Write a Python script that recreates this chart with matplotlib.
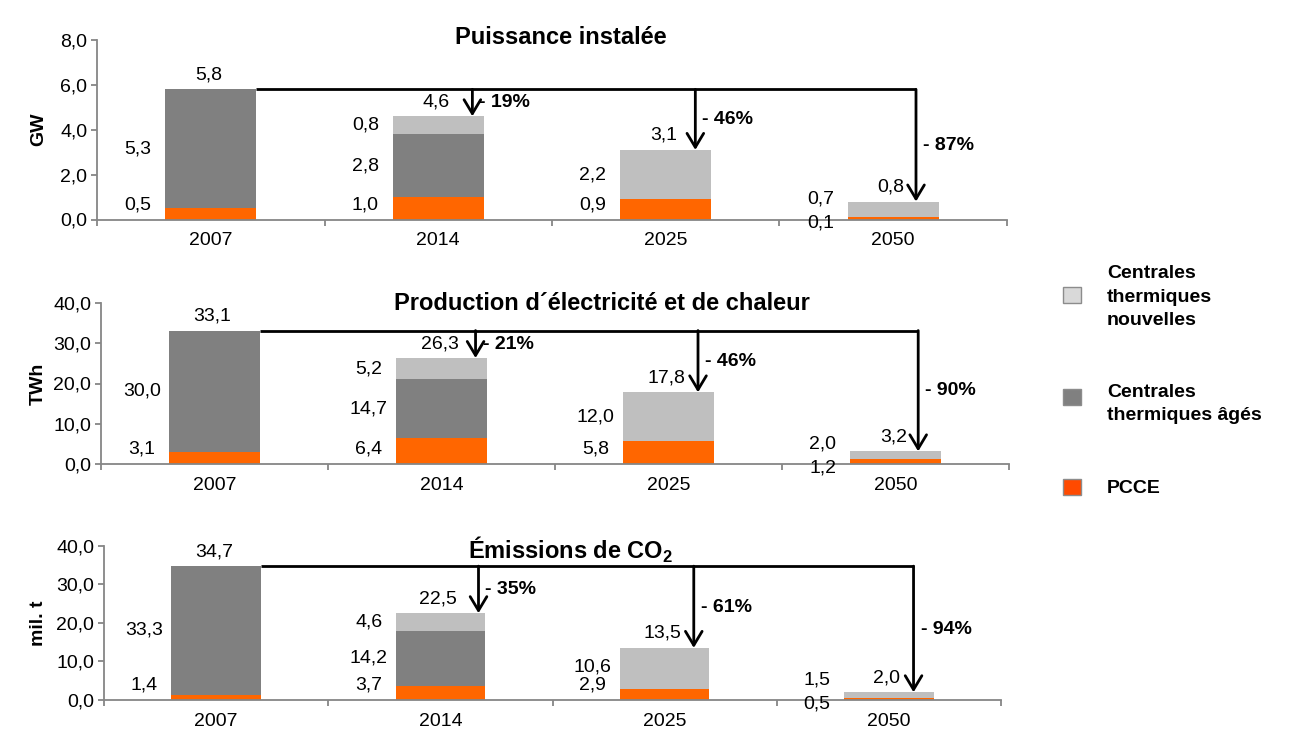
import matplotlib
matplotlib.use('Agg')
import matplotlib.pyplot as plt
from matplotlib.patches import Rectangle

plt.rcParams['font.family'] = ['Liberation Sans', 'DejaVu Sans']
plt.rcParams['mathtext.fontset'] = 'custom'
plt.rcParams['mathtext.rm'] = 'Liberation Sans'
plt.rcParams['mathtext.bf'] = 'Liberation Sans:bold'

# ---------------- data ----------------
years = ['2007', '2014', '2025', '2050']
legend_labels = ['Centrales\nthermiques\nnouvelles', 'Centrales\nthermiques âgés', 'PCCE']

power_pcce = [0.5, 1.0, 0.9, 0.1]
power_old = [5.3, 2.8, 0.0, 0.0]
power_new = [0.0, 0.8, 2.2, 0.7]
power_total = [5.8, 4.6, 3.1, 0.8]
power_change = ['- 19%', '- 46%', '- 87%']

prod_pcce = [3.1, 6.4, 5.8, 1.2]
prod_old = [30.0, 14.7, 0.0, 0.0]
prod_new = [0.0, 5.2, 12.0, 2.0]
prod_total = [33.1, 26.3, 17.8, 3.2]
prod_change = ['- 21%', '- 46%', '- 90%']

co2_pcce = [1.4, 3.7, 2.9, 0.5]
co2_old = [33.3, 14.2, 0.0, 0.0]
co2_new = [0.0, 4.6, 10.6, 1.5]
co2_total = [34.7, 22.5, 13.5, 2.0]
co2_change = ['- 35%', '- 61%', '- 94%']

# ---------------- style ----------------
W, H = 1291, 754
C_PCCE = '#FF6600'
C_OLD = '#808080'
C_NEW = '#BFBFBF'
SPINE = '#868686'
FS = 14

def fmt(v):
    return f'{v:.1f}'.replace('.', ',')

panels = [
    dict(rect=(97, 1007, 40, 219.5), ymax=8, step=2, ylabel='GW',
         title='Puissance instalée', tx=561, ty=38,
         segs=(power_pcce, power_old, power_new), total=power_total,
         change=power_change, adx=(0.15, 0.13, 0.10)),
    dict(rect=(101, 1009, 302.7, 464.3), ymax=40, step=10, ylabel='TWh',
         title='Production d\u00b4électricité et de chaleur', tx=602, ty=303,
         segs=(prod_pcce, prod_old, prod_new), total=prod_total,
         change=prod_change, adx=(0.15, 0.13, 0.10)),
    dict(rect=(104, 1001, 545.7, 700), ymax=40, step=10, ylabel='mil. t',
         title=r'Émissions de CO$_\mathbf{2}$', tx=571, ty=550,
         segs=(co2_pcce, co2_old, co2_new), total=co2_total,
         change=co2_change, adx=(0.17, 0.13, 0.11)),
]

fig = plt.figure(figsize=(W / 100, H / 100), dpi=100)

for p in panels:
    x0, x1, yt, yb = p['rect']
    ax = fig.add_axes([x0 / W, 1 - yb / H, (x1 - x0) / W, (yb - yt) / H])
    ax.set_xlim(-0.5, 3.5)
    ax.set_ylim(0, p['ymax'])
    ppu = (yb - yt) / p['ymax']  # pixels per unit
    xs = list(range(len(years)))
    colors = (C_PCCE, C_OLD, C_NEW)
    bottoms = [0.0] * len(years)
    for seg, c in zip(p['segs'], colors):
        ax.bar(xs, seg, width=0.4, bottom=bottoms, color=c, linewidth=0, zorder=2)
        bottoms = [b + s for b, s in zip(bottoms, seg)]

    # segment labels
    for i in xs:
        vals = [s[i] for s in p['segs']]
        base = 0.0
        prev_px = None
        last = (i == len(xs) - 1)
        k = 0
        for v in vals:
            if v <= 0:
                continue
            mid_px = (base + v / 2) * ppu
            if last:
                ypx = -4 if k == 0 else 20
            else:
                ypx = max(mid_px, 15) if prev_px is None else max(mid_px, prev_px + 18)
            prev_px = ypx
            ax.text(i - 0.32, ypx / ppu, fmt(v), ha='center', va='center',
                    fontsize=FS, zorder=5, clip_on=False)
            base += v
            k += 1
        # total label
        ax.annotate(fmt(p['total'][i]), xy=(i, bottoms[i]), xytext=(-2, 6),
                    textcoords='offset pixels', ha='center', va='bottom',
                    fontsize=FS, zorder=5)

    # arrows
    top0 = bottoms[0]
    ax_positions = [i + d for i, d in zip(xs[1:], p['adx'])]
    ax.plot([0.2, ax_positions[-1]], [top0, top0], color='black', lw=2,
            solid_capstyle='butt', zorder=4, clip_on=False)
    for xa, i, lab in zip(ax_positions, xs[1:], p['change']):
        ax.annotate('', xy=(xa, bottoms[i]), xytext=(xa, top0),
                    arrowprops=dict(arrowstyle='->,head_length=0.5,head_width=0.3',
                                    lw=2, color='black', shrinkA=0, shrinkB=0,
                                    mutation_scale=20), zorder=4)
        ax.annotate(lab, xy=(xa, (top0 + bottoms[i]) / 2), xytext=(7, 0),
                    textcoords='offset pixels', ha='left', va='center',
                    fontsize=FS, fontweight='bold')

    # axes style
    for s in ('top', 'right'):
        ax.spines[s].set_visible(False)
    for s in ('left', 'bottom'):
        ax.spines[s].set_color(SPINE)
        ax.spines[s].set_linewidth(1.3)
    yt_vals = [k * p['step'] for k in range(int(p['ymax'] / p['step']) + 1)]
    ax.set_yticks(yt_vals)
    ax.set_yticklabels([fmt(v) for v in yt_vals], fontsize=FS)
    ax.tick_params(axis='y', direction='out', length=4, width=1.3, color=SPINE, pad=3)
    ax.set_xticks(xs)
    ax.set_xticklabels(years, fontsize=FS)
    ax.set_xticks([-0.5, 0.5, 1.5, 2.5, 3.5], minor=True)
    ax.tick_params(axis='x', which='major', length=0, pad=9)
    ax.tick_params(axis='x', which='minor', direction='out', length=4, width=1.3, color=SPINE)
    ax.set_ylabel(p['ylabel'], fontsize=FS, fontweight='bold')
    ax.yaxis.set_label_coords((47 - x0) / (x1 - x0), 0.5)
    ax.patch.set_alpha(0)

    fig.text(p['tx'] / W, 1 - p['ty'] / H, p['title'], ha='center', va='center',
             fontsize=17, fontweight='bold')

# legend
leg_items = [
    (legend_labels[0], '#D9D9D9', 295, 297),
    (legend_labels[1], '#808080', 397, 404),
    (legend_labels[2], '#FF4A00', 487, 488),
]
for lab, col, sq_y, txt_y in leg_items:
    fig.add_artist(Rectangle((1063 / W, 1 - (sq_y + 8) / H), 18 / W, 16 / H,
                             transform=fig.transFigure, facecolor=col,
                             edgecolor='#8C8C8C', linewidth=1))
    fig.text(1107 / W, 1 - txt_y / H, lab, ha='left', va='center',
             fontsize=14, fontweight='bold', linespacing=1.5)

fig.savefig('out.png', dpi=100)
